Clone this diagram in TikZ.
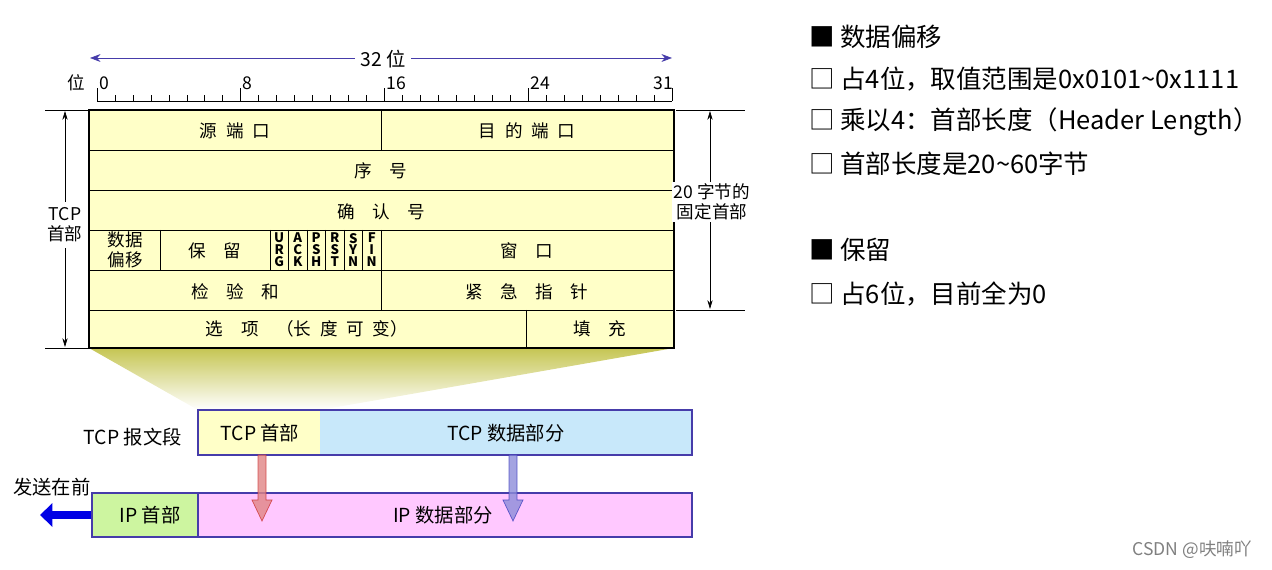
\documentclass[tikz,border=0pt]{standalone}
\usepackage{fontspec}
\setmainfont{Noto Sans CJK SC}
\usetikzlibrary{arrows.meta}
\definecolor{hdr}{RGB}{255,255,200}
\definecolor{tcpdata}{RGB}{200,232,250}
\definecolor{iphdr}{RGB}{205,245,160}
\definecolor{ipdata}{RGB}{255,200,255}
\definecolor{frame}{RGB}{70,60,170}
\tikzset{
  cell/.style={font=\fontsize{10}{11}\selectfont},
  flag/.style={font=\fontsize{7.5}{6.8}\selectfont\bfseries, align=center, inner sep=0pt},
  side/.style={font=\fontsize{10}{11.5}\selectfont, align=center},
  part/.style={font=\fontsize{11}{12}\selectfont},
  item/.style={anchor=west, font=\fontsize{14.5}{16}\selectfont},
  dim/.style={{Stealth[length=5pt,width=3pt]}-{Stealth[length=5pt,width=3pt]}, thin},
}
\begin{document}
\begin{tikzpicture}[x=0.02cm, y=-0.02cm]
\useasboundingbox (0,0) rectangle (1272,570);

% ruler
\draw[frame, {Stealth[length=6pt]}-{Stealth[length=6pt]}] (90,58) -- (672,58);
\node[fill=white, font=\fontsize{11}{12}\selectfont] (width) at (383,59) {32 位};
\node[cell] (bitlab) at (76,83) {位};
\draw (97,101) -- (672,101);
\foreach \b in {0,...,32}
  \draw (97+\b*17.97,101) -- (97+\b*17.97,95);
\foreach \b in {0,8,16,24}
{
  \draw (97+\b*17.97,101) -- (97+\b*17.97,88);
  \node[cell, anchor=south west, inner sep=1pt] at (97+\b*17.97,92) {\b};
}
\draw (672,101) -- (672,88);
\node[cell, anchor=south east, inner sep=1pt] at (675,92) {31};

% funnel
\shade[top color=olive!45, bottom color=white, draw=none] (89,348) -- (674,348) -- (320,410) -- (198,410) -- cycle;

% header table
\fill[hdr] (89,110) rectangle (674,348);
\foreach \y in {150,190,230,270,310}
  \draw (89,\y) -- (674,\y);
\draw (381,110) -- (381,150);
\draw (160,230) -- (160,270);
\foreach \x in {270,288.5,307,325.5,344,362.5,381}
  \draw (\x,230) -- (\x,270);
\draw (381,270) -- (381,310);
\draw (526,310) -- (526,348);
\draw[line width=1.2pt] (89,110) rectangle (674,348);

\node[cell] (sport) at (235,131) {源\enspace 端\enspace 口};
\node[cell] (dport) at (527,131) {目\enspace 的\enspace 端\enspace 口};
\node[cell] (seq) at (381,171) {序\quad 号};
\node[cell] (ack) at (381,212) {确\quad 认\quad 号};
\node[cell, align=center, font=\fontsize{10}{11.5}\selectfont] (off) at (125,250) {数据\\偏移};
\node[cell] (resv) at (215,251) {保\quad 留};
\foreach \f [count=\i] in {{U\\R\\G},{A\\C\\K},{P\\S\\H},{R\\S\\T},{S\\Y\\N},{F\\I\\N}}
  \node[flag] at (270+\i*18.5-9.25,250) {\f};
\node[cell] (win) at (527,251) {窗\quad 口};
\node[cell] (csum) at (235,292) {检\quad 验\quad 和};
\node[cell] (urg) at (527,292) {紧\quad 急\quad 指\quad 针};
\node[cell] (opt) at (307,329) {选\quad 项\quad （长\enspace 度\enspace 可\enspace 变）};
\node[cell] (pad) at (600,329) {填\quad 充};

% side dimensions
\draw (45,110) -- (88,110);
\draw (45,348) -- (88,348);
\draw[dim] (65,111) -- (65,347);
\node[side, fill=white] (tcphead) at (65,225) {TCP\\首部};
\draw (676,110) -- (745,110);
\draw (676,310) -- (745,310);
\draw[dim] (710,111) -- (710,309);
\node[side, fill=white, inner sep=1pt] (fixed) at (712,202) {20 字节的\\固定首部};

% tcp segment
\fill[hdr] (198,410) rectangle (320,455);
\fill[tcpdata] (320,410) rectangle (692,455);
\draw[frame, thick] (198,410) rectangle (692,455);
\node[part] (tcph) at (260,433) {TCP 首部};
\node[part] (tcpd) at (506,433) {TCP 数据部分};
\node[part, anchor=east] (seg) at (188,437) {TCP 报文段};

% ip datagram
\fill[iphdr] (92,493) rectangle (198,537);
\fill[ipdata] (198,493) rectangle (692,537);
\draw[frame, thick] (92,493) rectangle (692,537);
\draw[frame, thick] (198,493) -- (198,537);
\node[part] (iph) at (150,515) {IP 首部};
\node[part] (ipd) at (443,515) {IP 数据部分};
\node[part] (first) at (52,487) {发送在前};
\draw[blue!90!black, line width=5pt, -{Triangle[length=7pt,width=13pt]}] (91,515) -- (40,515);

% down arrows
\foreach \x/\c in {262/red!60!gray, 513/blue!50!gray}
  \filldraw[fill=\c!60, draw=\c, opacity=0.8] (\x-4,455) -- (\x+4,455) -- (\x+4,500) -- (\x+10,500) -- (\x,521) -- (\x-10,500) -- (\x-4,500) -- cycle;

% notes
\node[item] (n1) at (803,37) {■ 数据偏移};
\node[item] (n2) at (803,79) {□ 占4位，取值范围是0x0101\textasciitilde0x1111};
\node[item] (n3) at (803,122) {□ 乘以4：首部长度（Header Length）};
\node[item] (n4) at (803,164) {□ 首部长度是20\textasciitilde60字节};
\node[item] (n5) at (803,250) {■ 保留};
\node[item] (n6) at (803,294) {□ 占6位，目前全为0};
\node[anchor=east, gray, font=\fontsize{10}{11}\selectfont] (mark) at (1258,550) {CSDN @呋喃吖};
\end{tikzpicture}
\end{document}
